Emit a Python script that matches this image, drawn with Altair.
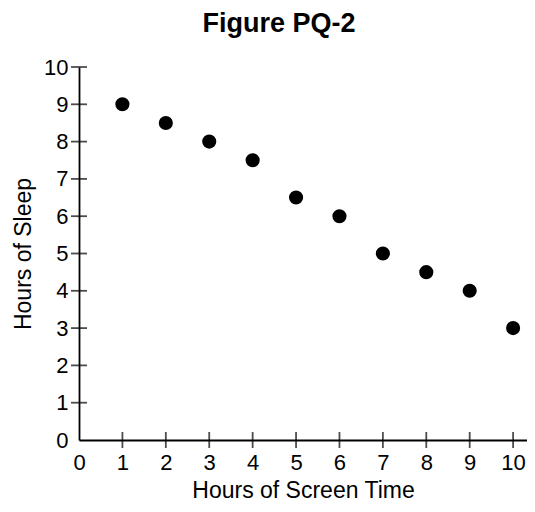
import altair as alt
import pandas as pd

screen_time = [1, 2, 3, 4, 5, 6, 7, 8, 9, 10]
sleep_hours = [9, 8.5, 8, 7.5, 6.5, 6, 5, 4.5, 4, 3]
tick_values = [1, 2, 3, 4, 5, 6, 7, 8, 9, 10]
label_values = [0, 1, 2, 3, 4, 5, 6, 7, 8, 9, 10]

FONT = "Liberation Sans, Arial, Helvetica, sans-serif"

pts = pd.DataFrame({"screen": screen_time, "sleep": sleep_hours})
ticks = pd.DataFrame({"t": tick_values})

xscale = alt.Scale(domain=[0, 10.32], nice=False, zero=False)
yscale = alt.Scale(domain=[0, 10], nice=False, zero=False)

xaxis = alt.Axis(values=label_values, ticks=False, grid=False, domainColor="black",
                 domainWidth=1.8, labelFontSize=22, labelPadding=12, labelColor="black",
                 title="Hours of Screen Time", titleFontSize=23, titleFontWeight="normal",
                 titleColor="black", titlePadding=6, labelFont=FONT, titleFont=FONT,
                 labelFlush=False, labelOverlap=False)
yaxis = alt.Axis(values=label_values, ticks=False, grid=False, domainColor="black",
                 domainWidth=1.8, labelFontSize=22, labelPadding=11, labelColor="black",
                 title="Hours of Sleep", titleFontSize=23, titleFontWeight="normal",
                 titleColor="black", titlePadding=8, labelFont=FONT, titleFont=FONT,
                 labelFlush=False, labelOverlap=False)

points = alt.Chart(pts).mark_point(filled=True, color="black", size=200, opacity=1).encode(
    x=alt.X("screen:Q", scale=xscale, axis=xaxis),
    y=alt.Y("sleep:Q", scale=yscale, axis=yaxis),
)

xticks = alt.Chart(ticks).mark_tick(orient="vertical", size=16, thickness=1.8, color="black").encode(
    x=alt.X("t:Q", scale=xscale, axis=xaxis),
    y=alt.Y(datum=0, scale=yscale, axis=yaxis),
)

yticks = alt.Chart(ticks).mark_tick(orient="horizontal", size=16, thickness=1.8, color="black").encode(
    y=alt.Y("t:Q", scale=yscale, axis=yaxis),
    x=alt.X(datum=0, scale=xscale, axis=xaxis),
)

chart = alt.layer(points, xticks, yticks).properties(
    width=448,
    height=373,
    autosize=alt.AutoSizeParams(type="none"),
    padding={"left": 71, "top": 59, "right": 0, "bottom": 64},
    title=alt.TitleParams(text="Figure PQ-2", fontSize=27, fontWeight="bold", font=FONT,
                          color="black", anchor="middle", dx=-24, dy=3, offset=0,
                          baseline="alphabetic"),
).configure_view(stroke=None)

chart.save("out.html", embed_options={"renderer": "svg", "actions": False})
